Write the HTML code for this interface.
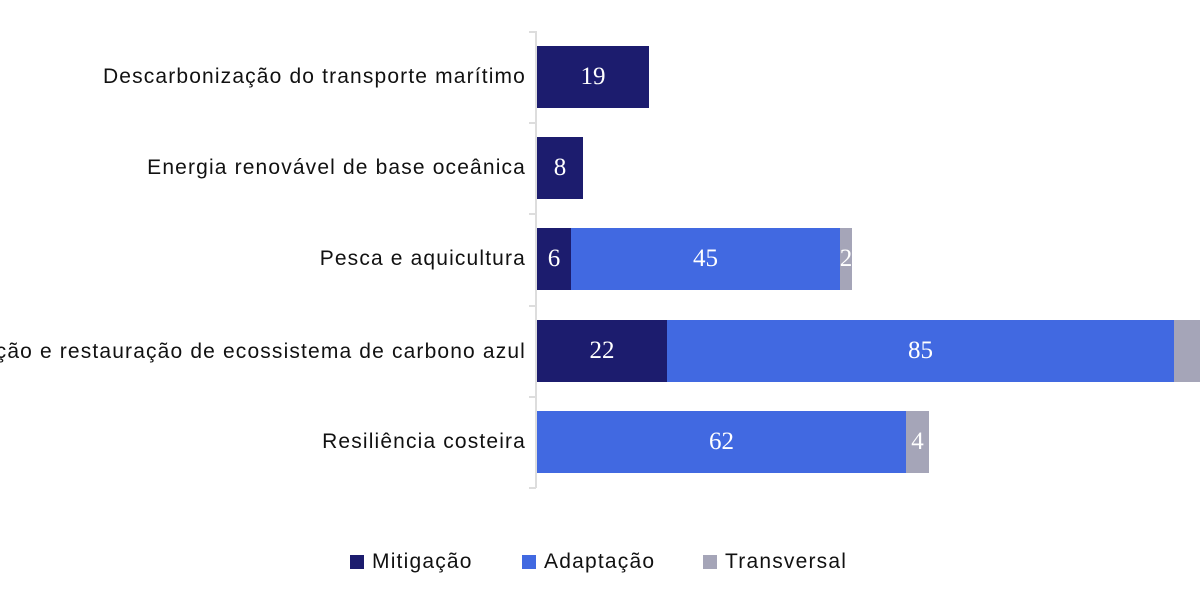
<!DOCTYPE html>
<html><head><meta charset="utf-8"><style>
body{margin:0;width:1200px;height:611px;background:#fff;position:relative;overflow:hidden;font-family:"Liberation Sans",sans-serif}
.ax{position:absolute;left:535px;top:31px;width:2px;height:457px;background:#ddd}
.tk{position:absolute;left:529px;width:7px;height:2px;background:#ddd}
.lab{position:absolute;right:674px;font-size:21px;letter-spacing:1.15px;color:#111;white-space:nowrap;line-height:24px}
.b{position:absolute;height:62px;color:#fff;font-family:"Liberation Serif",serif;font-size:25px;display:flex;align-items:center;justify-content:center;overflow:hidden}
.m{background:#1c1c6e}.a{background:#4169e1}.t{background:#a5a5b8}
.lg{position:absolute;top:550px;font-size:21px;letter-spacing:1.2px;color:#111;display:flex;align-items:center}
.lg i{display:inline-block;width:14px;height:14px;margin-right:8px}
</style></head><body>
<div class="ax"></div>
<div class="tk" style="top:31px"></div><div class="tk" style="top:122px"></div><div class="tk" style="top:213px"></div><div class="tk" style="top:305px"></div><div class="tk" style="top:396px"></div><div class="tk" style="top:487px"></div>

<div class="lab" style="top:65px">Descarbonização do transporte marítimo</div>
<div class="lab" style="top:156px">Energia renovável de base oceânica</div>
<div class="lab" style="top:247px">Pesca e aquicultura</div>
<div class="lab" style="top:340px">Conservação e restauração de ecossistema de carbono azul</div>
<div class="lab" style="top:430px">Resiliência costeira</div>

<div class="b m" style="top:46px;left:537px;width:112px">19</div>
<div class="b m" style="top:137px;left:537px;width:46px">8</div>
<div class="b m" style="top:228px;left:537px;width:34px">6</div>
<div class="b a" style="top:228px;left:571px;width:269px">45</div>
<div class="b t" style="top:228px;left:840px;width:12px">2</div>
<div class="b m" style="top:320px;left:537px;width:130px">22</div>
<div class="b a" style="top:320px;left:667px;width:507px">85</div>
<div class="b t" style="top:320px;left:1174px;width:26px"></div>
<div class="b a" style="top:411px;left:537px;width:369px">62</div>
<div class="b t" style="top:411px;left:906px;width:23px">4</div>

<div class="lg" style="left:350px"><i style="background:#1c1c6e"></i>Mitigação</div>
<div class="lg" style="left:522px"><i style="background:#4169e1"></i>Adaptação</div>
<div class="lg" style="left:703px"><i style="background:#a5a5b8"></i>Transversal</div>
</body></html>
